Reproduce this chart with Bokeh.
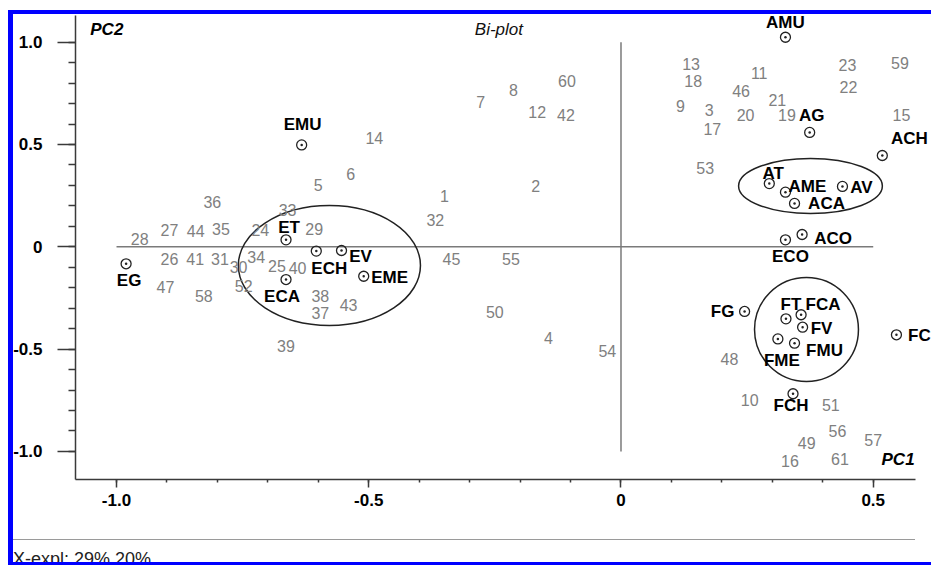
from bokeh.plotting import figure
from bokeh.models import (ColumnDataSource, LabelSet, Label, Range1d, FixedTicker, Div)
from bokeh.layouts import column
from bokeh.core.properties import value
from bokeh.embed import file_html
from bokeh.resources import INLINE

# ---------------- data ----------------
obj_names = [str(i) for i in range(1, 62)]
obj_pc1 = [-0.350, -0.169, 0.175, -0.144, -0.600, -0.536, -0.278, -0.213, 0.118, 0.255,
           0.274, -0.166, 0.139, -0.489, 0.556, 0.335, 0.181, 0.143, 0.329, 0.247,
           0.310, 0.451, 0.449, -0.715, -0.682, -0.895, -0.895, -0.954, -0.608, -0.758,
           -0.795, -0.368, -0.661, -0.723, -0.793, -0.810, -0.596, -0.596, -0.664, -0.641,
           -0.844, -0.109, -0.540, -0.843, -0.336, 0.238, -0.903, 0.215, 0.368, -0.250,
           0.416, -0.748, 0.167, -0.027, -0.218, 0.429, 0.500, -0.827, 0.553, -0.107,
           0.434]
obj_pc2 = [0.246, 0.297, 0.668, -0.447, 0.302, 0.357, 0.707, 0.764, 0.690, -0.751,
           0.848, 0.658, 0.894, 0.532, 0.646, -1.048, 0.574, 0.809, 0.646, 0.646,
           0.715, 0.780, 0.886, 0.081, -0.096, -0.059, 0.080, 0.039, 0.089, -0.100,
           -0.059, 0.133, 0.182, -0.052, 0.088, 0.218, -0.324, -0.238, -0.487, -0.105,
           -0.059, 0.646, -0.282, 0.076, -0.059, 0.760, -0.197, -0.546, -0.961, -0.320,
           -0.771, -0.192, 0.384, -0.507, -0.059, -0.898, -0.942, -0.238, 0.898, 0.808,
           -1.038]

var_names = ["AMU", "AG", "ACH", "AT", "AME", "AV", "ACA", "ACO", "ECO",
             "FG", "FT", "FCA", "FV", "FME", "FMU", "FC", "FCH",
             "EMU", "ET", "ECH", "EV", "EME", "ECA", "EG"]
var_pc1 = [0.326, 0.374, 0.518, 0.294, 0.326, 0.439, 0.344, 0.359, 0.326,
           0.245, 0.327, 0.357, 0.360, 0.311, 0.344, 0.546, 0.341,
           -0.633, -0.664, -0.604, -0.554, -0.510, -0.664, -0.981]
var_pc2 = [1.024, 0.559, 0.446, 0.309, 0.267, 0.295, 0.212, 0.060, 0.034,
           -0.316, -0.352, -0.332, -0.393, -0.450, -0.471, -0.430, -0.718,
           0.498, 0.034, -0.021, -0.018, -0.144, -0.160, -0.083]

# group ellipses (centre, width, height in PC units)
ell_x = [-0.578, 0.3756, 0.3677]
ell_y = [-0.091, 0.297, -0.404]
ell_w = [0.361, 0.285, 0.206]
ell_h = [0.586, 0.269, 0.508]

# origin reference lines
ref_x0 = [-1.0, 0.0]
ref_x1 = [0.5, 0.0]
ref_y0 = [0.0, -1.0]
ref_y1 = [0.0, 1.0]

x_ticks = [-1.0, -0.5, 0.0, 0.5]
x_tick_labels = ["-1.0", "-0.5", "0", "0.5"]
x_minor = [-1.0, -0.9, -0.8, -0.7, -0.6, -0.5, -0.4, -0.3, -0.2, -0.1,
           0.0, 0.1, 0.2, 0.3, 0.4, 0.5]
y_ticks = [-1.0, -0.5, 0.0, 0.5, 1.0]
y_tick_labels = ["-1.0", "-0.5", "0", "0.5", "1.0"]
y_minor = [-1.0, -0.9, -0.8, -0.7, -0.6, -0.5, -0.4, -0.3, -0.2, -0.1, 0.0,
           0.1, 0.2, 0.3, 0.4, 0.5, 0.6, 0.7, 0.8, 0.9, 1.0]

title_text = "Bi-plot"
x_name = "PC1"
y_name = "PC2"
footer_text = "X-expl: 29% 20%"

# label placement (pixels, style only)
var_dx = [0, 2, 27, 4, 22, 19, 32, 31, 5, -22, 5, 22, 19, 4, 30, 23, -2,
          1, 3, 13, 19, 26, -4, 3]
var_dy = [15, 17, 17, 10, 6, -1, 0, -4, -17, 0, 14, 10, -1, -22, -7, -1, -12,
          20, 12, -17, -6, -1, -17, -17]

FONT = "Liberation Sans"
BLUE = "#0000ff"

p = figure(width=923, height=525, output_backend="svg", toolbar_location=None,
           x_range=Range1d(-1.0813, 0.6155), y_range=Range1d(-1.1371, 1.1351),
           min_border_left=67, min_border_right=0, min_border_top=0,
           min_border_bottom=60)
p.title = None
p.grid.visible = False
p.outline_line_color = None
p.background_fill_color = "white"
p.border_fill_color = None

p.xaxis.bounds = (-1.0813, 0.5837)
p.yaxis.bounds = (-1.1371, 1.130)

for ax, ticks, minor, labels in ((p.xaxis[0], x_ticks, x_minor, x_tick_labels),
                                 (p.yaxis[0], y_ticks, y_minor, y_tick_labels)):
    ax.ticker = FixedTicker(ticks=ticks, minor_ticks=minor)
    ax.major_label_overrides = dict(zip(ticks, labels))
    ax.axis_line_color = "#3a3a3a"
    ax.axis_line_width = 1.5
    ax.major_tick_line_color = "#3a3a3a"
    ax.minor_tick_line_color = "#3a3a3a"
    ax.major_tick_line_width = 1.5
    ax.minor_tick_line_width = 1.5
    ax.major_tick_in = 0
    ax.minor_tick_in = 0
    ax.major_label_text_font = FONT
    ax.major_label_text_font_style = "bold"
    ax.major_label_text_font_size = "17px"
    ax.major_label_text_color = "black"

p.xaxis.major_tick_out = 8
p.xaxis.minor_tick_out = 3
p.xaxis.major_label_standoff = 6
p.yaxis.major_tick_out = 18
p.yaxis.minor_tick_out = 7
p.yaxis.major_label_standoff = 15

# reference cross through origin
p.segment(x0=ref_x0, y0=ref_y0, x1=ref_x1, y1=ref_y1, line_color="#7a7a7a",
          line_width=1.5)

# ellipses
p.ellipse(x=ell_x, y=ell_y, width=ell_w, height=ell_h, fill_color=None,
          line_color="#222222", line_width=1.5)

# variable markers
vsrc = ColumnDataSource(dict(x=var_pc1, y=var_pc2, name=var_names,
                             dx=var_dx, dy=var_dy))
p.scatter("x", "y", source=vsrc, marker="circle_dot", size=10,
          fill_color=None, line_color="#222222", line_width=1.3)
p.add_layout(LabelSet(x="x", y="y", text="name", source=vsrc,
                      x_offset="dx", y_offset="dy",
                      text_align="center", text_baseline="middle",
                      text_font=value(FONT), text_font_style=value("bold"),
                      text_font_size=value("17px"), text_color=value("black")))

# object numbers
osrc = ColumnDataSource(dict(x=obj_pc1, y=obj_pc2, name=obj_names))
p.add_layout(LabelSet(x="x", y="y", text="name", source=osrc,
                      text_align="center", text_baseline="middle",
                      text_font=value(FONT), text_font_size=value("16px"),
                      text_color=value("#808080")))

# axis names & title
p.add_layout(Label(x=-1.052, y=1.064, text=y_name, text_font=FONT,
                   text_font_style="bold italic", text_font_size="17px",
                   text_align="left", text_baseline="middle", text_color="black"))
p.add_layout(Label(x=0.582, y=-1.038, text=x_name, text_font=FONT,
                   text_font_style="bold italic", text_font_size="17px",
                   text_align="right", text_baseline="middle", text_color="black"))
p.add_layout(Label(x=-0.242, y=1.064, text=title_text, text_font=FONT,
                   text_font_style="italic", text_font_size="17px",
                   text_align="center", text_baseline="middle", text_color="#111111"))

footer = Div(text=footer_text, width=902, height=23, margin=(0, 0, 0, 5),
             styles={"box-sizing": "border-box",
                     "border-top": "1.5px solid #9a9a9a",
                     "padding-top": "7px",
                     "overflow": "hidden",
                     "font-family": FONT,
                     "font-size": "18px",
                     "color": "#222222",
                     "white-space": "nowrap"})

layout = column(p, footer, spacing=0,
                styles={"margin-left": "8px", "margin-top": "10px",
                        "border-top": "4px solid " + BLUE,
                        "border-bottom": "3px solid " + BLUE,
                        "background": "linear-gradient(to right, %s 0px, %s 5px, "
                                      "transparent 5px)" % (BLUE, BLUE)})

open("out.html", "w").write(file_html(layout, INLINE))
